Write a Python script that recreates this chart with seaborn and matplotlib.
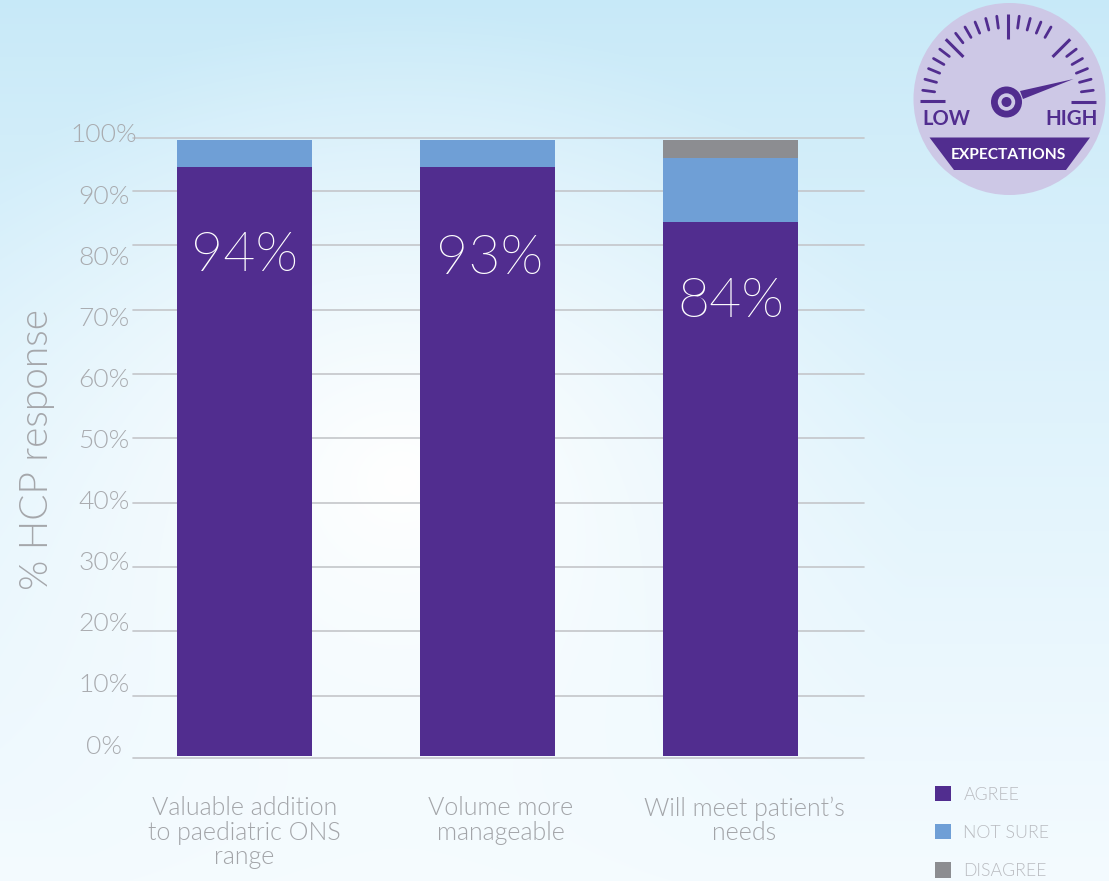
import numpy as np
import pandas as pd
import seaborn as sns
import matplotlib.pyplot as plt
from matplotlib.patches import Circle, Patch, Polygon
from matplotlib.transforms import ScaledTranslation

# values
statements = ['Valuable addition\nto paediatric ONS\nrange', 'Volume more\nmanageable', 'Will meet patient\u2019s\nneeds']
agree = [94.5, 94.5, 84.3]
not_sure = [5.1, 5.1, 11.9]
disagree = [0.0, 0.0, 3.4]
printed_labels = ['94%', '93%', '84%']
responses = ['AGREE', 'NOT SURE', 'DISAGREE']
y_ticks = list(range(0, 101, 10))
# the original axis is hand drawn and uneven, gridlines sit at these pixel rows
grid_rows = [758, 696, 631, 567, 503, 438, 374, 310, 245, 191, 138]

colors = {'AGREE': '#512d8f', 'NOT SURE': '#6f9fd6', 'DISAGREE': '#8c8d91'}
W, H = 1109, 881
PURPLE = '#512d8f'
LAVENDER = '#cdc8e6'

sns.set_style('white')
plt.rcParams['font.family'] = ['Lato', 'DejaVu Sans']

# stack by hand: tallest layer drawn first, shorter ones on top of it
agree_arr = np.array(agree)
sure_top = agree_arr + np.array(not_sure)
all_top = sure_top + np.array(disagree)
df = pd.concat([
    pd.DataFrame({'statement': statements, 'top': all_top, 'response': 'DISAGREE'}),
    pd.DataFrame({'statement': statements, 'top': sure_top, 'response': 'NOT SURE'}),
    pd.DataFrame({'statement': statements, 'top': agree_arr, 'response': 'AGREE'}),
])

fig = plt.figure(figsize=(W / 100, H / 100), dpi=100)


def px_axes(left, top, right, bottom, **kw):
    return fig.add_axes([left / W, 1 - bottom / H, (right - left) / W, (bottom - top) / H], **kw)


# background wash
bg = px_axes(0, 0, W, H, zorder=0)
yy, xx = np.mgrid[0:H, 0:W]
top_c = np.array([0xc7, 0xe9, 0xf8]) / 255
bot_c = np.array([0xf4, 0xfb, 0xff]) / 255
v = (yy / H)[..., None] ** 0.8
img = top_c * (1 - v) + bot_c * v
glow = np.clip(1 - np.hypot(xx - 400, (yy - 480) * 1.1) / 520, 0, 1)[..., None] ** 1.1
img = img * (1 - glow) + glow
bg.imshow(img, aspect='auto')
bg.axis('off')

# chart
ax = px_axes(133, 138, 864, 758, zorder=1)
ax.patch.set_alpha(0)
sns.barplot(data=df, x='statement', y='top', hue='response', dodge=False, width=0.555,
            hue_order=['DISAGREE', 'NOT SURE', 'AGREE'], palette=colors, saturation=1,
            legend=False, linewidth=0, ax=ax)
# bars sit a touch above the baseline in the original
for bar in ax.patches:
    bar.set_height(bar.get_height() - 0.3)
    bar.set_y(0.3)

grid_height = [758 - r for r in grid_rows]
ax.set_yscale('function', functions=(lambda a: np.interp(a, y_ticks, grid_height),
                                     lambda a: np.interp(a, grid_height, y_ticks)))
ax.set_xlim(-0.459, 2.549)
ax.set_yticks(y_ticks)
ax.set_ylim(0, 100)
ax.set_yticklabels([])
ax.minorticks_off()
ax.set_axisbelow(True)
ax.grid(axis='y', color='#c4c6ca', linewidth=1.2)
ax.grid(axis='x', visible=False)
for line in ax.get_ygridlines():
    line.set_clip_on(False)
sns.despine(ax=ax, left=True, bottom=True)
ax.tick_params(axis='both', length=0)
ax.set_xlabel('')
ax.set_ylabel('')

# x labels are not quite centred under bars 2 and 3
ax.set_xticks(range(len(statements)))
ax.set_xticklabels(statements, fontsize=18, fontweight=300, color='#a3a5a9', linespacing=1.03)
ax.tick_params(axis='x', pad=27.5)
for lab, dx in zip(ax.get_xticklabels(), [0, 13, 14]):
    lab.set_transform(lab.get_transform() + ScaledTranslation(dx / 100, 0, fig.dpi_scale_trans))

# printed percentages inside the bars
for i, (txt, y) in enumerate(zip(printed_labels, [78.3, 77.9, 71.2])):
    ax.text(i + (0, 0.01, 0)[i], y, txt, color='white', fontsize=40, fontweight=275, ha='center', va='center')

# tick labels run on a slightly tighter, even scale, so they get their own axes
tick_ax = px_axes(133, 133, 864, 744, zorder=1)
tick_ax.patch.set_alpha(0)
tick_ax.set_xticks([])
tick_ax.set_yticks(y_ticks)
tick_ax.set_ylim(0, 100)
tick_ax.set_yticklabels([f'{t}%' for t in y_ticks], fontsize=19, fontweight=300, color='#a9abaf', ha='center')
tick_ax.tick_params(axis='y', length=0, pad=21)
sns.despine(ax=tick_ax, left=True, bottom=True)

fig.text(37 / W, 1 - 449 / H, '% HCP response', rotation=90, fontsize=28, fontweight=300,
         color='#a5a7ab', ha='center', va='center')

handles = [Patch(facecolor=colors[r], edgecolor='none', label=r) for r in responses]
fig.legend(handles=handles, loc='upper left', bbox_to_anchor=(935 / W, 1 - 786 / H), frameon=False,
           labelcolor='#b9bbc0', prop={'family': 'Lato', 'weight': 300, 'size': 12.8},
           handlelength=0.9, handleheight=0.95, handletextpad=0.7, labelspacing=1.2,
           borderpad=0, borderaxespad=0)

# gauge badge, drawn in pixel space
g = px_axes(0, 0, W, H, zorder=3)
g.set_xlim(0, W)
g.set_ylim(H, 0)
g.axis('off')
g.patch.set_alpha(0)
g.add_patch(Circle((1009.5, 99), 96, color=LAVENDER, lw=0))
cx, cy = 1008, 101.5
for a in [180, 135, 90, 45, 0]:
    t = np.radians(a)
    g.plot([cx + 63 * np.cos(t), cx + 88 * np.cos(t)], [cy - 63 * np.sin(t), cy - 88 * np.sin(t)],
           color=PURPLE, lw=2.2, solid_capstyle='butt')
short = [172.5, 165, 157.5, 150, 142.5, 127.5, 120, 112.5, 105, 97.5,
         82.5, 75, 67.5, 60, 37.5, 30, 22.5, 15, 7.5]
for a in short:
    t = np.radians(a)
    g.plot([cx + 74 * np.cos(t), cx + 86 * np.cos(t)], [cy - 74 * np.sin(t), cy - 86 * np.sin(t)],
           color=PURPLE, lw=2.0, solid_capstyle='round')
g.add_patch(Polygon([(1020, 91), (1073.5, 79), (1023, 99)], color=PURPLE, lw=0))
g.add_patch(Circle((1006.5, 102), 15.5, color=PURPLE, lw=0))
g.add_patch(Circle((1006.5, 102), 8.7, color=LAVENDER, lw=0))
g.add_patch(Circle((1006.5, 102), 5, color=PURPLE, lw=0))
g.add_patch(Polygon([(929.5, 137.5), (1090, 137.5), (1066, 170), (954, 170)], color=PURPLE, lw=0))
g.text(946, 119, 'LOW', color=PURPLE, fontsize=14.5, fontweight=700, ha='center', va='center')
g.text(1071.5, 119, 'HIGH', color=PURPLE, fontsize=14.8, fontweight=700, ha='center', va='center')
g.text(1008.5, 155, 'EXPECTATIONS', color='white', fontsize=11.2, fontweight=700, ha='center', va='center')

fig.savefig('out.png', dpi=100)
